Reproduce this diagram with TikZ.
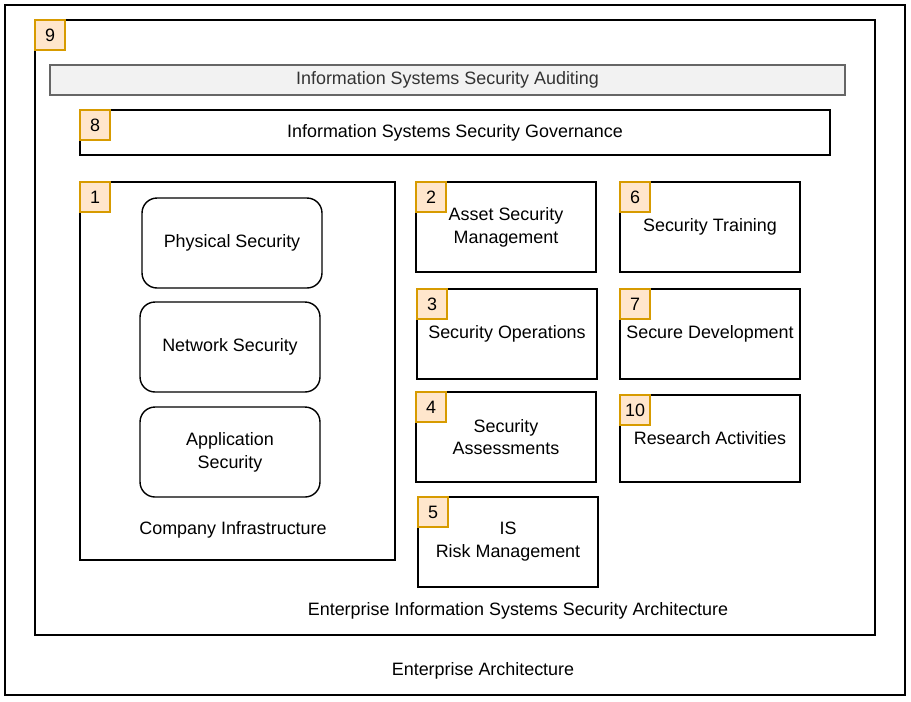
\documentclass[tikz,border=0pt]{standalone}
\usepackage{fontspec}
\setmainfont{Liberation Sans}
\usetikzlibrary{positioning}

\definecolor{badgefill}{HTML}{FFE6CC}
\definecolor{badgeline}{HTML}{D79B00}
\definecolor{barfill}{HTML}{F2F2F2}
\definecolor{barline}{HTML}{666666}
\definecolor{bartext}{HTML}{333333}

\tikzset{
	area/.style={draw, line width=0.8pt, rectangle, inner sep=0pt},
	block/.style={area, minimum width=3.6cm, minimum height=1.8cm, align=center},
	rblock/.style={block, rounded corners=0.3cm},
	badge/.style={draw=badgeline, fill=badgefill, line width=0.8pt, minimum size=0.6cm, inner sep=0pt, anchor=north west},
}

\begin{document}
\begin{tikzpicture}[x=0.02cm, y=-0.02cm, font=\fontsize{10.2}{13}\selectfont]
	\useasboundingbox (0,0) rectangle (911,701);

	% outer frames
	\node[area, minimum width=18cm, minimum height=13.8cm] (ea) at (455,350) {};
	\node (eaText) at (483,671) {Enterprise Architecture};
	\node[area, minimum width=16.8cm, minimum height=12.3cm] (eisa) at (455,327.5) {};
	\node (eisaText) at (518,611) {Enterprise Information Systems Security Architecture};
	\node[badge] (b9) at (eisa.north west) {9};

	% auditing and governance
	\node[area, draw=barline, fill=barfill, text=bartext, minimum width=15.9cm, minimum height=0.6cm] (audit) at (447.5,80) {Information Systems Security Auditing};
	\node[area, minimum width=15cm, minimum height=0.9cm] (gov) at (455,132.5) {Information Systems Security Governance};
	\node[badge] (b8) at (gov.north west) {8};

	% company infrastructure
	\node[area, minimum width=6.3cm, minimum height=7.56cm] (infra) at (237.5,371) {};
	\node (infraText) at (233,530) {Company Infrastructure};
	\node[badge] (b1) at (infra.north west) {1};
	\node[rblock] (phys) at (232,243) {Physical Security};
	\node[rblock] (net) at (230,347) {Network Security};
	\node[rblock] (app) at (230,452) {Application\\Security};

	% security functions
	\node[block] (asset) at (506,227) {Asset Security\\Management};
	\node[badge] (b2) at (asset.north west) {2};
	\node[block] (ops) at (507,334) {Security Operations};
	\node[badge] (b3) at (ops.north west) {3};
	\node[block] (assess) at (506,437) {Security\\Assessments};
	\node[badge] (b4) at (assess.north west) {4};
	\node[block] (risk) at (508,542) {IS\\Risk Management};
	\node[badge] (b5) at (risk.north west) {5};
	\node[block] (train) at (710,227) {Security Training};
	\node[badge] (b6) at (train.north west) {6};
	\node[block] (dev) at (710,334) {Secure Development};
	\node[badge] (b7) at (dev.north west) {7};
	\node[block, minimum height=1.74cm] (research) at (710,438.5) {Research Activities};
	\node[badge] (b10) at (research.north west) {10};
\end{tikzpicture}
\end{document}
